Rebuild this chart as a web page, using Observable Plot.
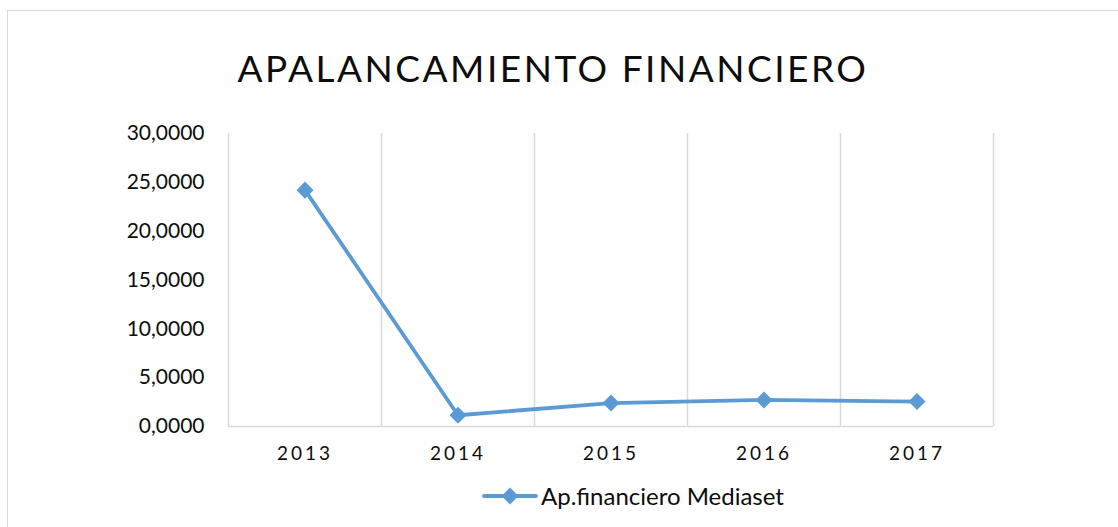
<!DOCTYPE html>
<html>
<head>
<meta charset="utf-8">
<script src="https://cdn.jsdelivr.net/npm/d3@7"></script>
<script src="https://cdn.jsdelivr.net/npm/@observablehq/plot@0.6"></script>
<style>
  html, body { margin: 0; padding: 0; background: #fff; }
  body { width: 1118px; height: 527px; overflow: hidden; position: relative; font-family: Lato, "Open Sans", sans-serif; color: #0d0d0d; }
  #frame { position: absolute; left: 7px; top: 10px; width: 1200px; height: 600px; border: 1px solid #d9d9d9; box-sizing: border-box; }
  #title { position: absolute; left: 0; width: 1106px; top: 49px; text-align: center; font-size: 37px; line-height: 37px; letter-spacing: 2.5px; color: #0d0d0d; white-space: nowrap; }
  #chart { position: absolute; left: 0; top: 100px; }
  #chart svg { overflow: visible; }
  #legend { position: absolute; left: 482px; top: 485px; height: 22px; display: flex; align-items: center; font-size: 24px; line-height: 22px; color: #0d0d0d; white-space: nowrap; }
  #legend svg { margin-right: 3px; }
</style>
</head>
<body>
<div id="frame"></div>
<div id="title"></div>
<div id="chart"></div>
<div id="legend"></div>
<script>
const title = "APALANCAMIENTO FINANCIERO";
const seriesName = "Ap.financiero Mediaset";
const years = [2013, 2014, 2015, 2016, 2017];
const values = [24.2, 1.15, 2.4, 2.72, 2.55];
const yTicks = [0, 5, 10, 15, 20, 25, 30];
const lineColor = "#5b9bd5";
const gridColor = "#d9d9d9";

const data = years.map((year, i) => ({year, value: values[i]}));
const gridX = years.map(y => y - 0.5).concat([years[years.length - 1] + 0.5]);
const fmtY = d => d.toFixed(4).replace(".", ",");

document.getElementById("title").textContent = title;

const chart = Plot.plot({
  width: 1118,
  height: 380,
  marginLeft: 228,
  marginRight: 125,
  marginTop: 33,
  marginBottom: 54,
  style: {fontFamily: "Lato, 'Open Sans', sans-serif", color: "#0d0d0d", background: "transparent", overflow: "visible"},
  x: {domain: [years[0] - 0.5, years[years.length - 1] + 0.5], ticks: years, tickFormat: d => String(d), tickSize: 0, tickPadding: 20, label: null},
  y: {domain: [yTicks[0], yTicks[yTicks.length - 1]], ticks: yTicks, tickFormat: fmtY, tickSize: 0, tickPadding: 24, label: null},
  marks: [
    Plot.ruleX(gridX, {stroke: gridColor, strokeWidth: 1.5}),
    Plot.ruleY([0], {stroke: gridColor, strokeWidth: 1.5}),
    Plot.line(data, {x: "year", y: "value", stroke: lineColor, strokeWidth: 3.8}),
    Plot.dot(data, {x: "year", y: "value", symbol: "square", rotate: 45, r: 6.8, fill: lineColor, stroke: "none"})
  ]
});
document.getElementById("chart").appendChild(chart);

chart.querySelectorAll('g[aria-label="x-axis tick label"]').forEach(el => {
  el.setAttribute("font-size", "19");
  el.style.letterSpacing = "3px";
});
chart.querySelectorAll('g[aria-label="y-axis tick label"]').forEach(el => {
  el.setAttribute("font-size", "21");
});

// legend
const ns = "http://www.w3.org/2000/svg";
const sw = document.createElementNS(ns, "svg");
sw.setAttribute("width", "56");
sw.setAttribute("height", "22");
const ln = document.createElementNS(ns, "line");
ln.setAttribute("x1", "2"); ln.setAttribute("x2", "54");
ln.setAttribute("y1", "11"); ln.setAttribute("y2", "11");
ln.setAttribute("stroke", lineColor); ln.setAttribute("stroke-width", "3.8");
ln.setAttribute("stroke-linecap", "round");
sw.appendChild(ln);
const dm = document.createElementNS(ns, "path");
dm.setAttribute("d", d3.symbol(d3.symbolSquare, 145)());
dm.setAttribute("transform", "translate(28,11) rotate(45)");
dm.setAttribute("fill", lineColor);
sw.appendChild(dm);
const legend = document.getElementById("legend");
legend.appendChild(sw);
const lt = document.createElement("span");
lt.textContent = seriesName;
legend.appendChild(lt);
</script>
</body>
</html>
